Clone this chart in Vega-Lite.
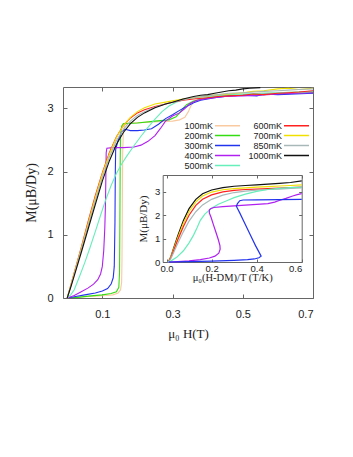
{
"$schema": "https://vega.github.io/schema/vega-lite/v6.json",
"width": 250, "height": 211,
"autosize": {"type": "none"},
"padding": {"left": 63, "top": 87, "right": 40, "bottom": 159},
"background": "white",
"config": {
  "view": {"stroke": "#666", "strokeWidth": 1},
  "axis": {"labelFont": "Liberation Sans", "titleFont": "Liberation Serif", "titleFontWeight": "normal", "labelColor": "#222", "titleColor": "#222", "tickColor": "#666", "domainColor": "#666", "grid": false},
  "legend": {"labelFont": "Liberation Sans", "labelColor": "#222"}
},
"datasets": {
"main": [
{"T":"100mK","H":0,"M":0,"i":0},{"T":"100mK","H":0.02,"M":0.01,"i":1},{"T":"100mK","H":0.05,"M":0.02,"i":2},{"T":"100mK","H":0.08,"M":0.03,"i":3},{"T":"100mK","H":0.11,"M":0.04,"i":4},{"T":"100mK","H":0.13,"M":0.05,"i":5},{"T":"100mK","H":0.145,"M":0.08,"i":6},{"T":"100mK","H":0.152,"M":0.13,"i":7},{"T":"100mK","H":0.155,"M":0.25,"i":8},{"T":"100mK","H":0.156,"M":0.6,"i":9},{"T":"100mK","H":0.157,"M":1.5,"i":10},{"T":"100mK","H":0.158,"M":2.3,"i":11},{"T":"100mK","H":0.16,"M":2.65,"i":12},{"T":"100mK","H":0.165,"M":2.75,"i":13},{"T":"100mK","H":0.18,"M":2.77,"i":14},{"T":"100mK","H":0.22,"M":2.78,"i":15},{"T":"100mK","H":0.26,"M":2.79,"i":16},{"T":"100mK","H":0.3,"M":2.8,"i":17},{"T":"100mK","H":0.32,"M":2.82,"i":18},{"T":"100mK","H":0.335,"M":2.86,"i":19},{"T":"100mK","H":0.345,"M":2.95,"i":20},{"T":"100mK","H":0.352,"M":3.04,"i":21},{"T":"100mK","H":0.36,"M":3.1,"i":22},{"T":"100mK","H":0.38,"M":3.15,"i":23},{"T":"100mK","H":0.42,"M":3.19,"i":24},{"T":"100mK","H":0.46,"M":3.21,"i":25},{"T":"100mK","H":0.5,"M":3.22,"i":26},{"T":"100mK","H":0.55,"M":3.24,"i":27},{"T":"100mK","H":0.6,"M":3.25,"i":28},{"T":"100mK","H":0.65,"M":3.26,"i":29},{"T":"100mK","H":0.7,"M":3.27,"i":30},
{"T":"200mK","H":0,"M":0,"i":0},{"T":"200mK","H":0.03,"M":0.01,"i":1},{"T":"200mK","H":0.06,"M":0.03,"i":2},{"T":"200mK","H":0.1,"M":0.05,"i":3},{"T":"200mK","H":0.125,"M":0.07,"i":4},{"T":"200mK","H":0.14,"M":0.1,"i":5},{"T":"200mK","H":0.147,"M":0.17,"i":6},{"T":"200mK","H":0.149,"M":0.4,"i":7},{"T":"200mK","H":0.15,"M":1.2,"i":8},{"T":"200mK","H":0.151,"M":2.2,"i":9},{"T":"200mK","H":0.152,"M":2.6,"i":10},{"T":"200mK","H":0.155,"M":2.72,"i":11},{"T":"200mK","H":0.16,"M":2.76,"i":12},{"T":"200mK","H":0.2,"M":2.77,"i":13},{"T":"200mK","H":0.25,"M":2.8,"i":14},{"T":"200mK","H":0.29,"M":2.82,"i":15},{"T":"200mK","H":0.31,"M":2.87,"i":16},{"T":"200mK","H":0.32,"M":2.93,"i":17},{"T":"200mK","H":0.33,"M":3.0,"i":18},{"T":"200mK","H":0.34,"M":3.06,"i":19},{"T":"200mK","H":0.36,"M":3.12,"i":20},{"T":"200mK","H":0.4,"M":3.17,"i":21},{"T":"200mK","H":0.45,"M":3.2,"i":22},{"T":"200mK","H":0.5,"M":3.21,"i":23},{"T":"200mK","H":0.55,"M":3.22,"i":24},{"T":"200mK","H":0.6,"M":3.23,"i":25},{"T":"200mK","H":0.65,"M":3.24,"i":26},{"T":"200mK","H":0.7,"M":3.25,"i":27},
{"T":"300mK","H":0,"M":0,"i":0},{"T":"300mK","H":0.02,"M":0.02,"i":1},{"T":"300mK","H":0.05,"M":0.05,"i":2},{"T":"300mK","H":0.08,"M":0.08,"i":3},{"T":"300mK","H":0.1,"M":0.11,"i":4},{"T":"300mK","H":0.115,"M":0.15,"i":5},{"T":"300mK","H":0.125,"M":0.22,"i":6},{"T":"300mK","H":0.131,"M":0.32,"i":7},{"T":"300mK","H":0.134,"M":0.5,"i":8},{"T":"300mK","H":0.136,"M":1.2,"i":9},{"T":"300mK","H":0.137,"M":2.0,"i":10},{"T":"300mK","H":0.138,"M":2.35,"i":11},{"T":"300mK","H":0.145,"M":2.5,"i":12},{"T":"300mK","H":0.155,"M":2.63,"i":13},{"T":"300mK","H":0.165,"M":2.67,"i":14},{"T":"300mK","H":0.18,"M":2.65,"i":15},{"T":"300mK","H":0.2,"M":2.65,"i":16},{"T":"300mK","H":0.22,"M":2.66,"i":17},{"T":"300mK","H":0.24,"M":2.68,"i":18},{"T":"300mK","H":0.26,"M":2.75,"i":19},{"T":"300mK","H":0.28,"M":2.84,"i":20},{"T":"300mK","H":0.3,"M":2.9,"i":21},{"T":"300mK","H":0.32,"M":2.97,"i":22},{"T":"300mK","H":0.34,"M":3.03,"i":23},{"T":"300mK","H":0.36,"M":3.09,"i":24},{"T":"300mK","H":0.38,"M":3.13,"i":25},{"T":"300mK","H":0.42,"M":3.17,"i":26},{"T":"300mK","H":0.46,"M":3.2,"i":27},{"T":"300mK","H":0.5,"M":3.21,"i":28},{"T":"300mK","H":0.54,"M":3.2,"i":29},{"T":"300mK","H":0.56,"M":3.23,"i":30},{"T":"300mK","H":0.6,"M":3.22,"i":31},{"T":"300mK","H":0.65,"M":3.23,"i":32},{"T":"300mK","H":0.7,"M":3.24,"i":33},
{"T":"400mK","H":0,"M":0,"i":0},{"T":"400mK","H":0.02,"M":0.04,"i":1},{"T":"400mK","H":0.04,"M":0.1,"i":2},{"T":"400mK","H":0.06,"M":0.16,"i":3},{"T":"400mK","H":0.075,"M":0.22,"i":4},{"T":"400mK","H":0.087,"M":0.29,"i":5},{"T":"400mK","H":0.095,"M":0.38,"i":6},{"T":"400mK","H":0.1,"M":0.5,"i":7},{"T":"400mK","H":0.104,"M":0.75,"i":8},{"T":"400mK","H":0.107,"M":1.1,"i":9},{"T":"400mK","H":0.109,"M":1.5,"i":10},{"T":"400mK","H":0.11,"M":1.9,"i":11},{"T":"400mK","H":0.111,"M":2.3,"i":12},{"T":"400mK","H":0.113,"M":2.37,"i":13},{"T":"400mK","H":0.13,"M":2.38,"i":14},{"T":"400mK","H":0.16,"M":2.38,"i":15},{"T":"400mK","H":0.19,"M":2.39,"i":16},{"T":"400mK","H":0.21,"M":2.42,"i":17},{"T":"400mK","H":0.23,"M":2.48,"i":18},{"T":"400mK","H":0.25,"M":2.57,"i":19},{"T":"400mK","H":0.265,"M":2.68,"i":20},{"T":"400mK","H":0.28,"M":2.8,"i":21},{"T":"400mK","H":0.3,"M":2.88,"i":22},{"T":"400mK","H":0.32,"M":2.93,"i":23},{"T":"400mK","H":0.335,"M":3.0,"i":24},{"T":"400mK","H":0.35,"M":3.08,"i":25},{"T":"400mK","H":0.37,"M":3.13,"i":26},{"T":"400mK","H":0.4,"M":3.16,"i":27},{"T":"400mK","H":0.45,"M":3.19,"i":28},{"T":"400mK","H":0.5,"M":3.2,"i":29},{"T":"400mK","H":0.55,"M":3.21,"i":30},{"T":"400mK","H":0.6,"M":3.23,"i":31},{"T":"400mK","H":0.65,"M":3.24,"i":32},{"T":"400mK","H":0.7,"M":3.25,"i":33},
{"T":"500mK","H":0,"M":0,"i":0},{"T":"500mK","H":0.01,"M":0.05,"i":1},{"T":"500mK","H":0.02,"M":0.13,"i":2},{"T":"500mK","H":0.035,"M":0.34,"i":3},{"T":"500mK","H":0.05,"M":0.56,"i":4},{"T":"500mK","H":0.065,"M":0.8,"i":5},{"T":"500mK","H":0.08,"M":1.05,"i":6},{"T":"500mK","H":0.095,"M":1.31,"i":7},{"T":"500mK","H":0.11,"M":1.56,"i":8},{"T":"500mK","H":0.125,"M":1.78,"i":9},{"T":"500mK","H":0.14,"M":1.97,"i":10},{"T":"500mK","H":0.155,"M":2.12,"i":11},{"T":"500mK","H":0.17,"M":2.25,"i":12},{"T":"500mK","H":0.19,"M":2.41,"i":13},{"T":"500mK","H":0.21,"M":2.56,"i":14},{"T":"500mK","H":0.23,"M":2.7,"i":15},{"T":"500mK","H":0.25,"M":2.83,"i":16},{"T":"500mK","H":0.27,"M":2.95,"i":17},{"T":"500mK","H":0.29,"M":3.04,"i":18},{"T":"500mK","H":0.31,"M":3.1,"i":19},{"T":"500mK","H":0.34,"M":3.15,"i":20},{"T":"500mK","H":0.38,"M":3.18,"i":21},{"T":"500mK","H":0.42,"M":3.2,"i":22},{"T":"500mK","H":0.46,"M":3.22,"i":23},{"T":"500mK","H":0.5,"M":3.23,"i":24},{"T":"500mK","H":0.55,"M":3.24,"i":25},{"T":"500mK","H":0.6,"M":3.25,"i":26},{"T":"500mK","H":0.65,"M":3.26,"i":27},{"T":"500mK","H":0.7,"M":3.27,"i":28},
{"T":"600mK","H":0,"M":0,"i":0},{"T":"600mK","H":0.01,"M":0.2,"i":1},{"T":"600mK","H":0.02,"M":0.4,"i":2},{"T":"600mK","H":0.04,"M":0.8,"i":3},{"T":"600mK","H":0.06,"M":1.22,"i":4},{"T":"600mK","H":0.08,"M":1.62,"i":5},{"T":"600mK","H":0.1,"M":1.98,"i":6},{"T":"600mK","H":0.12,"M":2.3,"i":7},{"T":"600mK","H":0.14,"M":2.55,"i":8},{"T":"600mK","H":0.16,"M":2.73,"i":9},{"T":"600mK","H":0.18,"M":2.85,"i":10},{"T":"600mK","H":0.2,"M":2.93,"i":11},{"T":"600mK","H":0.22,"M":2.98,"i":12},{"T":"600mK","H":0.25,"M":3.03,"i":13},{"T":"600mK","H":0.28,"M":3.07,"i":14},{"T":"600mK","H":0.3,"M":3.1,"i":15},{"T":"600mK","H":0.33,"M":3.13,"i":16},{"T":"600mK","H":0.36,"M":3.15,"i":17},{"T":"600mK","H":0.4,"M":3.17,"i":18},{"T":"600mK","H":0.43,"M":3.19,"i":19},{"T":"600mK","H":0.46,"M":3.2,"i":20},{"T":"600mK","H":0.5,"M":3.21,"i":21},{"T":"600mK","H":0.53,"M":3.23,"i":22},{"T":"600mK","H":0.56,"M":3.22,"i":23},{"T":"600mK","H":0.6,"M":3.24,"i":24},{"T":"600mK","H":0.63,"M":3.25,"i":25},{"T":"600mK","H":0.66,"M":3.26,"i":26},{"T":"600mK","H":0.7,"M":3.28,"i":27},
{"T":"700mK","H":0,"M":0,"i":0},{"T":"700mK","H":0.01,"M":0.19,"i":1},{"T":"700mK","H":0.02,"M":0.39,"i":2},{"T":"700mK","H":0.04,"M":0.78,"i":3},{"T":"700mK","H":0.06,"M":1.19,"i":4},{"T":"700mK","H":0.08,"M":1.59,"i":5},{"T":"700mK","H":0.1,"M":1.96,"i":6},{"T":"700mK","H":0.12,"M":2.28,"i":7},{"T":"700mK","H":0.14,"M":2.54,"i":8},{"T":"700mK","H":0.16,"M":2.73,"i":9},{"T":"700mK","H":0.18,"M":2.86,"i":10},{"T":"700mK","H":0.2,"M":2.95,"i":11},{"T":"700mK","H":0.22,"M":3.01,"i":12},{"T":"700mK","H":0.25,"M":3.07,"i":13},{"T":"700mK","H":0.28,"M":3.1,"i":14},{"T":"700mK","H":0.3,"M":3.12,"i":15},{"T":"700mK","H":0.33,"M":3.15,"i":16},{"T":"700mK","H":0.36,"M":3.17,"i":17},{"T":"700mK","H":0.4,"M":3.2,"i":18},{"T":"700mK","H":0.43,"M":3.22,"i":19},{"T":"700mK","H":0.46,"M":3.23,"i":20},{"T":"700mK","H":0.5,"M":3.25,"i":21},{"T":"700mK","H":0.53,"M":3.27,"i":22},{"T":"700mK","H":0.56,"M":3.28,"i":23},{"T":"700mK","H":0.6,"M":3.31,"i":24},{"T":"700mK","H":0.63,"M":3.32,"i":25},{"T":"700mK","H":0.66,"M":3.3,"i":26},{"T":"700mK","H":0.7,"M":3.32,"i":27},
{"T":"850mK","H":0,"M":0,"i":0},{"T":"850mK","H":0.01,"M":0.18,"i":1},{"T":"850mK","H":0.02,"M":0.37,"i":2},{"T":"850mK","H":0.04,"M":0.76,"i":3},{"T":"850mK","H":0.06,"M":1.15,"i":4},{"T":"850mK","H":0.08,"M":1.54,"i":5},{"T":"850mK","H":0.1,"M":1.91,"i":6},{"T":"850mK","H":0.12,"M":2.23,"i":7},{"T":"850mK","H":0.14,"M":2.49,"i":8},{"T":"850mK","H":0.16,"M":2.67,"i":9},{"T":"850mK","H":0.18,"M":2.8,"i":10},{"T":"850mK","H":0.2,"M":2.89,"i":11},{"T":"850mK","H":0.22,"M":2.95,"i":12},{"T":"850mK","H":0.25,"M":3.02,"i":13},{"T":"850mK","H":0.28,"M":3.07,"i":14},{"T":"850mK","H":0.3,"M":3.1,"i":15},{"T":"850mK","H":0.33,"M":3.14,"i":16},{"T":"850mK","H":0.36,"M":3.17,"i":17},{"T":"850mK","H":0.4,"M":3.2,"i":18},{"T":"850mK","H":0.43,"M":3.22,"i":19},{"T":"850mK","H":0.46,"M":3.24,"i":20},{"T":"850mK","H":0.5,"M":3.25,"i":21},{"T":"850mK","H":0.53,"M":3.26,"i":22},{"T":"850mK","H":0.56,"M":3.27,"i":23},{"T":"850mK","H":0.6,"M":3.28,"i":24},{"T":"850mK","H":0.63,"M":3.29,"i":25},{"T":"850mK","H":0.66,"M":3.3,"i":26},{"T":"850mK","H":0.7,"M":3.31,"i":27},
{"T":"1000mK","H":0,"M":0,"i":0},{"T":"1000mK","H":0.01,"M":0.17,"i":1},{"T":"1000mK","H":0.02,"M":0.35,"i":2},{"T":"1000mK","H":0.04,"M":0.72,"i":3},{"T":"1000mK","H":0.06,"M":1.1,"i":4},{"T":"1000mK","H":0.08,"M":1.48,"i":5},{"T":"1000mK","H":0.1,"M":1.85,"i":6},{"T":"1000mK","H":0.12,"M":2.17,"i":7},{"T":"1000mK","H":0.14,"M":2.43,"i":8},{"T":"1000mK","H":0.16,"M":2.62,"i":9},{"T":"1000mK","H":0.18,"M":2.76,"i":10},{"T":"1000mK","H":0.2,"M":2.86,"i":11},{"T":"1000mK","H":0.22,"M":2.93,"i":12},{"T":"1000mK","H":0.25,"M":3.01,"i":13},{"T":"1000mK","H":0.28,"M":3.07,"i":14},{"T":"1000mK","H":0.3,"M":3.1,"i":15},{"T":"1000mK","H":0.33,"M":3.15,"i":16},{"T":"1000mK","H":0.36,"M":3.19,"i":17},{"T":"1000mK","H":0.38,"M":3.21,"i":18},{"T":"1000mK","H":0.4,"M":3.22,"i":19},{"T":"1000mK","H":0.42,"M":3.24,"i":20},{"T":"1000mK","H":0.44,"M":3.26,"i":21},{"T":"1000mK","H":0.46,"M":3.28,"i":22},{"T":"1000mK","H":0.48,"M":3.29,"i":23},{"T":"1000mK","H":0.5,"M":3.31,"i":24},{"T":"1000mK","H":0.52,"M":3.32,"i":25},{"T":"1000mK","H":0.55,"M":3.33,"i":26}
],
"inset": [
{"T":"1000mK","X":0.008,"M":0,"i":0},{"T":"1000mK","X":0.02,"M":0.25,"i":1},{"T":"1000mK","X":0.03,"M":0.55,"i":2},{"T":"1000mK","X":0.05,"M":1.12,"i":3},{"T":"1000mK","X":0.075,"M":1.78,"i":4},{"T":"1000mK","X":0.1,"M":2.28,"i":5},{"T":"1000mK","X":0.13,"M":2.68,"i":6},{"T":"1000mK","X":0.16,"M":2.92,"i":7},{"T":"1000mK","X":0.2,"M":3.08,"i":8},{"T":"1000mK","X":0.25,"M":3.18,"i":9},{"T":"1000mK","X":0.3,"M":3.24,"i":10},{"T":"1000mK","X":0.35,"M":3.27,"i":11},{"T":"1000mK","X":0.4,"M":3.3,"i":12},{"T":"1000mK","X":0.45,"M":3.33,"i":13},{"T":"1000mK","X":0.5,"M":3.36,"i":14},{"T":"1000mK","X":0.55,"M":3.4,"i":15},{"T":"1000mK","X":0.6,"M":3.47,"i":16},
{"T":"700mK","X":0.008,"M":0,"i":0},{"T":"700mK","X":0.02,"M":0.23,"i":1},{"T":"700mK","X":0.03,"M":0.5,"i":2},{"T":"700mK","X":0.05,"M":1.04,"i":3},{"T":"700mK","X":0.075,"M":1.66,"i":4},{"T":"700mK","X":0.1,"M":2.16,"i":5},{"T":"700mK","X":0.13,"M":2.57,"i":6},{"T":"700mK","X":0.16,"M":2.82,"i":7},{"T":"700mK","X":0.2,"M":2.99,"i":8},{"T":"700mK","X":0.25,"M":3.09,"i":9},{"T":"700mK","X":0.3,"M":3.14,"i":10},{"T":"700mK","X":0.35,"M":3.17,"i":11},{"T":"700mK","X":0.4,"M":3.2,"i":12},{"T":"700mK","X":0.45,"M":3.22,"i":13},{"T":"700mK","X":0.5,"M":3.25,"i":14},{"T":"700mK","X":0.55,"M":3.27,"i":15},{"T":"700mK","X":0.6,"M":3.3,"i":16},
{"T":"600mK","X":0.008,"M":0,"i":0},{"T":"600mK","X":0.02,"M":0.2,"i":1},{"T":"600mK","X":0.03,"M":0.45,"i":2},{"T":"600mK","X":0.05,"M":0.95,"i":3},{"T":"600mK","X":0.075,"M":1.52,"i":4},{"T":"600mK","X":0.1,"M":2.0,"i":5},{"T":"600mK","X":0.13,"M":2.42,"i":6},{"T":"600mK","X":0.16,"M":2.68,"i":7},{"T":"600mK","X":0.2,"M":2.87,"i":8},{"T":"600mK","X":0.25,"M":3.0,"i":9},{"T":"600mK","X":0.3,"M":3.06,"i":10},{"T":"600mK","X":0.35,"M":3.1,"i":11},{"T":"600mK","X":0.4,"M":3.12,"i":12},{"T":"600mK","X":0.45,"M":3.14,"i":13},{"T":"600mK","X":0.5,"M":3.16,"i":14},{"T":"600mK","X":0.55,"M":3.18,"i":15},{"T":"600mK","X":0.6,"M":3.2,"i":16},
{"T":"850mK","X":0.008,"M":0,"i":0},{"T":"850mK","X":0.02,"M":0.16,"i":1},{"T":"850mK","X":0.03,"M":0.37,"i":2},{"T":"850mK","X":0.05,"M":0.8,"i":3},{"T":"850mK","X":0.075,"M":1.3,"i":4},{"T":"850mK","X":0.1,"M":1.75,"i":5},{"T":"850mK","X":0.13,"M":2.15,"i":6},{"T":"850mK","X":0.16,"M":2.44,"i":7},{"T":"850mK","X":0.2,"M":2.68,"i":8},{"T":"850mK","X":0.25,"M":2.86,"i":9},{"T":"850mK","X":0.3,"M":2.97,"i":10},{"T":"850mK","X":0.35,"M":3.03,"i":11},{"T":"850mK","X":0.4,"M":3.07,"i":12},{"T":"850mK","X":0.45,"M":3.1,"i":13},{"T":"850mK","X":0.5,"M":3.12,"i":14},{"T":"850mK","X":0.55,"M":3.15,"i":15},{"T":"850mK","X":0.6,"M":3.17,"i":16},
{"T":"500mK","X":0.005,"M":0,"i":0},{"T":"500mK","X":0.02,"M":0.05,"i":1},{"T":"500mK","X":0.045,"M":0.2,"i":2},{"T":"500mK","X":0.075,"M":0.48,"i":3},{"T":"500mK","X":0.1,"M":0.82,"i":4},{"T":"500mK","X":0.12,"M":1.15,"i":5},{"T":"500mK","X":0.135,"M":1.45,"i":6},{"T":"500mK","X":0.15,"M":1.78,"i":7},{"T":"500mK","X":0.17,"M":2.05,"i":8},{"T":"500mK","X":0.2,"M":2.3,"i":9},{"T":"500mK","X":0.23,"M":2.47,"i":10},{"T":"500mK","X":0.27,"M":2.63,"i":11},{"T":"500mK","X":0.3,"M":2.75,"i":12},{"T":"500mK","X":0.35,"M":2.9,"i":13},{"T":"500mK","X":0.4,"M":3.02,"i":14},{"T":"500mK","X":0.45,"M":3.1,"i":15},{"T":"500mK","X":0.5,"M":3.15,"i":16},{"T":"500mK","X":0.55,"M":3.18,"i":17},{"T":"500mK","X":0.6,"M":3.2,"i":18},
{"T":"400mK","X":0.01,"M":0,"i":0},{"T":"400mK","X":0.05,"M":0.02,"i":1},{"T":"400mK","X":0.1,"M":0.05,"i":2},{"T":"400mK","X":0.15,"M":0.1,"i":3},{"T":"400mK","X":0.19,"M":0.17,"i":4},{"T":"400mK","X":0.215,"M":0.25,"i":5},{"T":"400mK","X":0.232,"M":0.38,"i":6},{"T":"400mK","X":0.238,"M":0.55,"i":7},{"T":"400mK","X":0.237,"M":0.7,"i":8},{"T":"400mK","X":0.23,"M":0.95,"i":9},{"T":"400mK","X":0.22,"M":1.25,"i":10},{"T":"400mK","X":0.208,"M":1.6,"i":11},{"T":"400mK","X":0.198,"M":1.9,"i":12},{"T":"400mK","X":0.19,"M":2.1,"i":13},{"T":"400mK","X":0.19,"M":2.22,"i":14},{"T":"400mK","X":0.195,"M":2.28,"i":15},{"T":"400mK","X":0.21,"M":2.33,"i":16},{"T":"400mK","X":0.25,"M":2.37,"i":17},{"T":"400mK","X":0.3,"M":2.4,"i":18},{"T":"400mK","X":0.35,"M":2.43,"i":19},{"T":"400mK","X":0.4,"M":2.46,"i":20},{"T":"400mK","X":0.45,"M":2.5,"i":21},{"T":"400mK","X":0.48,"M":2.56,"i":22},{"T":"400mK","X":0.5,"M":2.63,"i":23},{"T":"400mK","X":0.53,"M":2.72,"i":24},{"T":"400mK","X":0.56,"M":2.82,"i":25},{"T":"400mK","X":0.58,"M":2.88,"i":26},{"T":"400mK","X":0.6,"M":2.92,"i":27},
{"T":"300mK","X":0.01,"M":0,"i":0},{"T":"300mK","X":0.1,"M":0.02,"i":1},{"T":"300mK","X":0.2,"M":0.04,"i":2},{"T":"300mK","X":0.3,"M":0.07,"i":3},{"T":"300mK","X":0.36,"M":0.1,"i":4},{"T":"300mK","X":0.39,"M":0.13,"i":5},{"T":"300mK","X":0.41,"M":0.18,"i":6},{"T":"300mK","X":0.42,"M":0.25,"i":7},{"T":"300mK","X":0.395,"M":0.7,"i":8},{"T":"300mK","X":0.37,"M":1.2,"i":9},{"T":"300mK","X":0.345,"M":1.7,"i":10},{"T":"300mK","X":0.325,"M":2.1,"i":11},{"T":"300mK","X":0.31,"M":2.38,"i":12},{"T":"300mK","X":0.315,"M":2.5,"i":13},{"T":"300mK","X":0.325,"M":2.62,"i":14},{"T":"300mK","X":0.34,"M":2.65,"i":15},{"T":"300mK","X":0.4,"M":2.66,"i":16},{"T":"300mK","X":0.5,"M":2.67,"i":17},{"T":"300mK","X":0.6,"M":2.68,"i":18}
]
},
"layer": [
  {
    "data": {"name": "main"},
    "mark": {"type": "line", "strokeWidth": 1.1, "clip": true},
    "encoding": {
      "x": {"field": "H", "type": "quantitative", "scale": {"domain": [-0.012, 0.7], "nice": false, "zero": false},
            "axis": {"values": [0.1, 0.3, 0.5, 0.7], "format": ".1f", "title": "μ₀ H(T)", "domain": false, "tickSize": -4, "labelPadding": 14, "labelFontSize": 11, "titleFontSize": 13, "titlePadding": 8}},
      "y": {"field": "M", "type": "quantitative", "scale": {"domain": [0, 3.34], "nice": false},
            "axis": {"values": [0, 1, 2, 3], "title": "M(μB/Dy)", "domain": false, "tickSize": -4, "labelPadding": 14, "labelFontSize": 11, "titleFontSize": 14, "titleX": -32, "titleY": 105.5, "titleBaseline": "middle", "titleAlign": "center", "titleAngle": -90}},
      "color": {"field": "T", "type": "nominal",
                "scale": {"domain": ["100mK","200mK","300mK","400mK","500mK","600mK","700mK","850mK","1000mK"],
                          "range": ["#f9c9a0","#33dd11","#2233ee","#b020f0","#66eebb","#ff2020","#f0e000","#a8b8b8","#111111"]},
                "legend": {"orient": "none", "legendX": 160, "legendY": 34, "columns": 2, "title": null, "symbolType": "M-5,0H5", "symbolSize": 25, "symbolStrokeWidth": 1.5, "symbolOffset": 0, "labelFontSize": 9, "labelAlign": "right", "labelOffset": -19, "rowPadding": -3, "columnPadding": 5, "symbolLimit": 0}},
      "order": {"field": "i", "type": "quantitative"}
    }
  },
  {
    "data": {"name": "main"},
    "mark": {"type": "point", "opacity": 0},
    "encoding": {
      "x": {"field": "H", "type": "quantitative", "scale": {"domain": [-0.012, 0.7], "nice": false, "zero": false},
            "axis": {"orient": "top", "values": [0.1, 0.3, 0.5, 0.7], "labels": false, "title": null, "domain": false, "tickSize": -4}},
      "y": {"field": "M", "type": "quantitative", "scale": {"domain": [0, 3.34], "nice": false},
            "axis": {"orient": "right", "values": [0, 1, 2, 3], "labels": false, "title": null, "domain": false, "tickSize": -4}}
    }
  },
  {
    "data": {"name": "inset"},
    "layer": [
      {
        "mark": {"type": "line", "strokeWidth": 1.2, "clip": false},
        "encoding": {
          "x": {"field": "X", "type": "quantitative", "scale": {"domain": [-0.017, 0.6], "nice": false, "zero": false, "range": [99.7, 238.7]},
                "axis": {"orient": "bottom", "offset": -36, "values": [0, 0.2, 0.4, 0.6], "format": ".1f", "title": "μ₀(H-DM)/T  (T/K)", "domain": true, "tickSize": -3, "labelPadding": 4, "labelFontSize": 9.5, "titleFontSize": 10.5, "titleX": 169.2, "titleY": 15.5, "titleBaseline": "middle", "titleAlign": "center"}},
          "y": {"field": "M", "type": "quantitative", "scale": {"domain": [0, 3.72], "nice": false, "range": [175, 88]},
                "axis": {"orient": "left", "offset": -99.7, "values": [0, 1, 2, 3], "title": "M(μB/Dy)", "domain": true, "tickSize": -3, "labelPadding": 6, "labelFontSize": 9.5, "titleFontSize": 11, "titleX": -19, "titleY": 131.5, "titleBaseline": "middle", "titleAlign": "center", "titleAngle": -90}},
          "color": {"field": "T", "type": "nominal"},
          "order": {"field": "i", "type": "quantitative"}
        }
      },
      {
        "mark": {"type": "point", "opacity": 0},
        "encoding": {
          "x": {"field": "X", "type": "quantitative", "scale": {"domain": [-0.017, 0.6], "nice": false, "zero": false, "range": [99.7, 238.7]},
                "axis": {"orient": "top", "offset": -88, "values": [0, 0.2, 0.4, 0.6], "labels": false, "title": null, "domain": true, "tickSize": -3}},
          "y": {"field": "M", "type": "quantitative", "scale": {"domain": [0, 3.72], "nice": false, "range": [175, 88]},
                "axis": {"orient": "right", "offset": -11.3, "values": [0, 1, 2, 3], "labels": false, "title": null, "domain": true, "tickSize": -3}}
        }
      }
    ],
    "resolve": {"axis": {"x": "independent", "y": "independent"}}
  }
],
"resolve": {"scale": {"x": "independent", "y": "independent"}, "axis": {"x": "independent", "y": "independent"}}
}
